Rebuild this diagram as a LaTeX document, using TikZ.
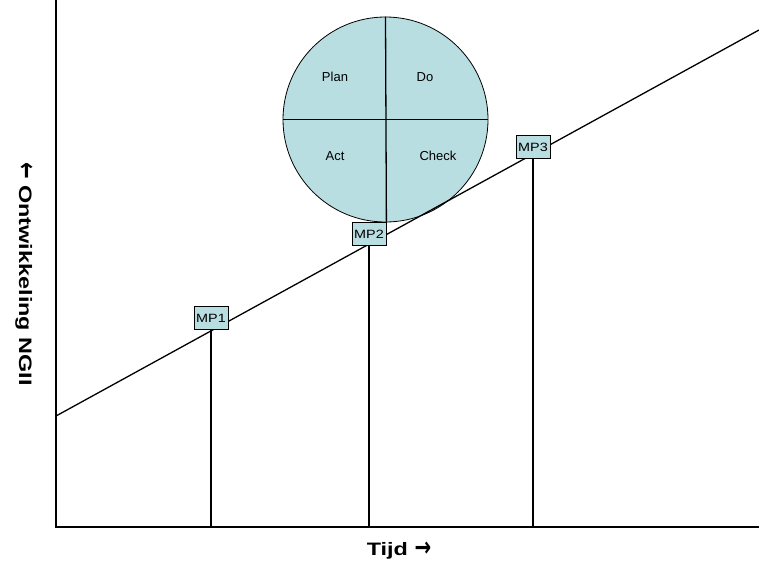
\documentclass[tikz,border=0pt]{standalone}
\usepackage{fontspec}
\setmainfont{Liberation Sans}
\newfontfamily\arrowfont{DejaVu Sans}
\definecolor{pdcafill}{RGB}{185,222,226}
\newcommand{\wide}[1]{\scalebox{1.3}[1]{#1}}
\newcommand{\midwide}[1]{\scalebox{1.2}[1]{#1}}
\newcommand{\bigarrow}[1]{\raisebox{-1pt}{\scalebox{0.85}[1.5]{\arrowfont\bfseries #1}}}
\tikzset{
  axisline/.style={line width=2pt},
  thinline/.style={line width=1.3pt},
  mpbox/.style={draw, line width=0.8pt, fill=pdcafill, minimum width=34pt, minimum height=23pt, inner sep=0pt, font=\fontsize{12}{14}\selectfont},
  quadlabel/.style={font=\fontsize{13}{15}\selectfont},
  axlabel/.style={font=\bfseries\fontsize{18}{20}\selectfont}
}
\begin{document}
\begin{tikzpicture}[x=1pt,y=-1pt]
\useasboundingbox (0,0) rectangle (759,570);
\coordinate (O) at (56,527);
\coordinate (Ytop) at (56,0);
\coordinate (Xend) at (759,527);
\coordinate (L0) at (56,416);
\coordinate (L1) at (759,30);
% PDCA circle
\node[circle, draw, fill=pdcafill, minimum size=205pt, inner sep=0pt, line width=0.8pt] (pdca) at (385.5,119.5) {};
\draw[thinline] (pdca.west) -- (pdca.east);
\node[quadlabel] (plan) at (335,77) {Plan};
\node[quadlabel] (do) at (425,77) {Do};
\node[quadlabel] (act) at (335,156) {Act};
\node[quadlabel] (check) at (438,156) {Check};
% development line
\draw[thinline] (L0) -- (L1);
% axes
\draw[axisline] (Ytop) -- (O) -- (Xend);
% milestones
\node[mpbox] (mp1) at (211,318) {\midwide{MP1}};
\node[mpbox] (mp2) at (369,234) {\midwide{MP2}};
\node[mpbox] (mp3) at (533,147) {\midwide{MP3}};
\draw[thinline] (pdca.north) -- (mp2.north east);
\draw[thinline] (mp1.south) -- (mp1.south |- O);
\draw[thinline] (mp2.south) -- (mp2.south |- O);
\draw[thinline] (mp3.south) -- (mp3.south |- O);
% axis labels
\node[axlabel, rotate=-90] (ylab) at (24,274) {\wide{\bigarrow{←} Ontwikkeling NGII}};
\node[axlabel] (xlab) at (399,551) {\wide{Tijd \bigarrow{→}}};
\end{tikzpicture}
\end{document}
